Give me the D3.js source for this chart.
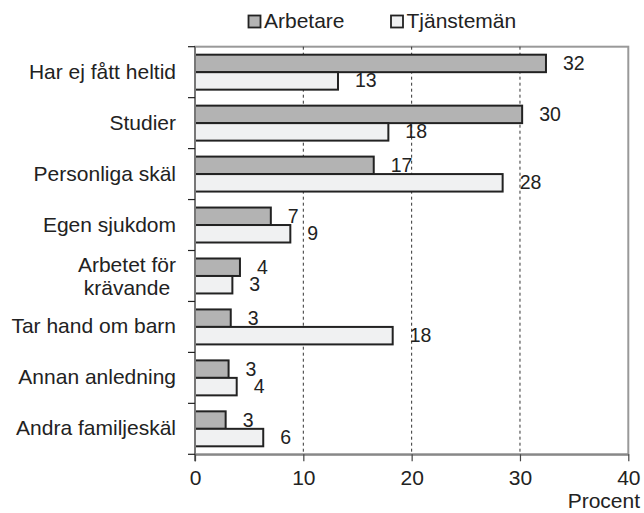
<!DOCTYPE html>
<html><head><meta charset="utf-8">
<script src="https://cdn.jsdelivr.net/npm/d3@7"></script>
<style>
html,body{margin:0;padding:0;background:#fff;}
svg{display:block;font-family:"Liberation Sans",Arial,sans-serif;}
</style></head>
<body><svg id="chart" width="644" height="513"></svg>
<script>
const categories = ["Har ej fått heltid","Studier","Personliga skäl","Egen sjukdom","Arbetet för krävande","Tar hand om barn","Annan anledning","Andra familjeskäl"];
const categoryLines = [["Har ej fått heltid"],["Studier"],["Personliga skäl"],["Egen sjukdom"],["Arbetet för","krävande\u00a0"],["Tar hand om barn"],["Annan anledning"],["Andra familjeskäl"]];
const seriesNames = ["Arbetare","Tjänstemän"];
const arbetare = [32.4, 30.2, 16.5, 7.0, 4.15, 3.3, 3.1, 2.83];
const tjanstemän = [13.2, 17.85, 28.4, 8.8, 3.45, 18.25, 3.85, 6.3];
const xTicks = [0, 10, 20, 30, 40];
const xTitle = "Procent";

const fills = {"Arbetare":"#b3b3b3","Tjänstemän":"#f0f1f2"};
const svg = d3.select("#chart");
const L = 195, R = 628.3, T = 46.7, B = 454.3;
const x = d3.scaleLinear().domain([0, 40]).range([L, R]);
const y = d3.scaleBand().domain(categories).range([T, B]).paddingInner(0).paddingOuter(0);
const sub = d3.scaleBand().domain(seriesNames).range([0, y.bandwidth()]).paddingInner(0).paddingOuter(0.457);

// plot border
svg.append("rect").attr("x", L).attr("y", T).attr("width", R - L).attr("height", B - T)
  .attr("fill", "none").attr("stroke", "#999").attr("stroke-width", 2);

// gridlines
svg.append("g").selectAll("line").data(xTicks.filter(t => t > 0 && t < 40)).join("line")
  .attr("x1", d => x(d)).attr("x2", d => x(d)).attr("y1", T).attr("y2", B)
  .attr("stroke", "#333").attr("stroke-width", 1).attr("stroke-dasharray", "3,3");

// bars
const data = [];
categories.forEach((c, i) => {
  data.push({c, s: "Arbetare", v: arbetare[i]});
  data.push({c, s: "Tjänstemän", v: tjanstemän[i]});
});
svg.append("g").selectAll("rect").data(data).join("rect")
  .attr("x", x(0)).attr("y", d => y(d.c) + sub(d.s))
  .attr("width", d => x(d.v) - x(0)).attr("height", sub.bandwidth())
  .attr("fill", d => fills[d.s]).attr("stroke", "#222").attr("stroke-width", 2);

// value labels
svg.append("g").selectAll("text").data(data).join("text")
  .attr("x", d => x(d.v) + 17).attr("y", d => y(d.c) + sub(d.s) + sub.bandwidth() / 2 + 6.5)
  .attr("font-size", 19.5).attr("fill", "#222").text(d => Math.round(d.v));

// left axis
svg.append("line").attr("x1", L).attr("x2", L).attr("y1", T).attr("y2", B + 7)
  .attr("stroke", "#777").attr("stroke-width", 2);
svg.append("g").selectAll("line").data(categories.map(c => y(c)).concat([B])).join("line")
  .attr("x1", L - 7).attr("x2", L).attr("y1", d => d).attr("y2", d => d)
  .attr("stroke", "#222").attr("stroke-width", 1.2);

// category labels
const catG = svg.append("g").attr("font-size", 21).attr("fill", "#222").attr("text-anchor", "end");
categories.forEach((c, i) => {
  const lines = categoryLines[i];
  const cy = y(c) + y.bandwidth() / 2;
  const lh = 23;
  lines.forEach((ln, j) => {
    catG.append("text").attr("x", 176)
      .attr("y", cy + 6.5 + (j - (lines.length - 1) / 2) * lh + (lines.length > 1 ? 1.5 : 0))
      .text(ln);
  });
});

// bottom axis
const xAxis = svg.append("g").attr("transform", `translate(0,${B})`)
  .call(d3.axisBottom(x).tickValues(xTicks).tickSize(7).tickSizeOuter(0).tickPadding(9));
xAxis.select(".domain").attr("stroke", "#888").attr("stroke-width", 2);
xAxis.selectAll(".tick line").attr("stroke", "#444").attr("stroke-width", 1.2);
xAxis.selectAll(".tick text").attr("font-size", 21).attr("fill", "#222")
  .attr("font-family", "Liberation Sans, Arial, sans-serif");

svg.append("text").attr("x", 640).attr("y", 508).attr("text-anchor", "end")
  .attr("font-size", 21).attr("fill", "#222").text(xTitle);

// legend
const legX = [248.5, 391];
seriesNames.forEach((s, i) => {
  svg.append("rect").attr("x", legX[i]).attr("y", 15.5).attr("width", 12).attr("height", 12)
    .attr("fill", fills[s]).attr("stroke", "#222").attr("stroke-width", 1.8);
  svg.append("text").attr("x", legX[i] + 15.5).attr("y", 27.5).attr("font-size", 21)
    .attr("fill", "#222").text(s);
});
</script></body></html>
